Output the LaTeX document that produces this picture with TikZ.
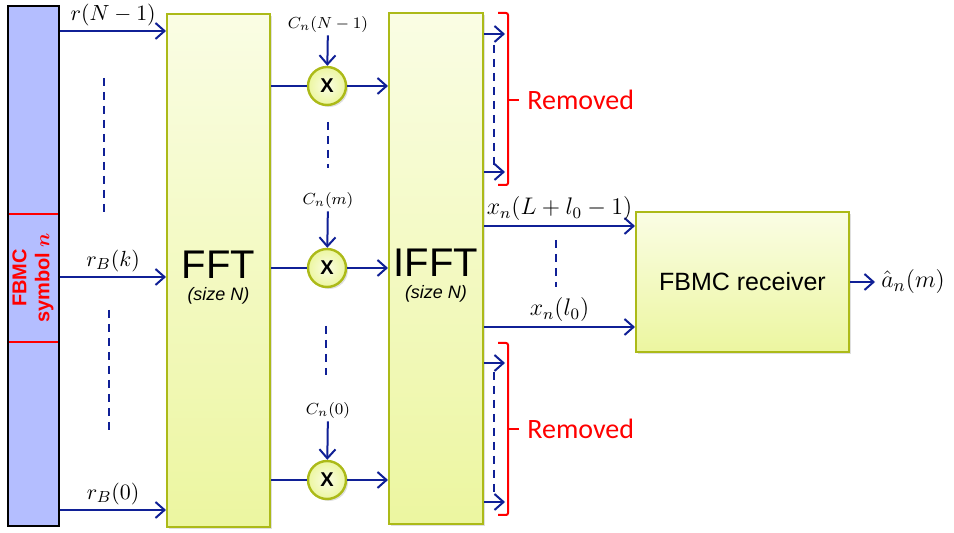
\documentclass[tikz,border=0pt]{standalone}
\usepackage{amsmath}
\usepackage{fontspec}
\setsansfont{Liberation Sans}
\newfontfamily\removedfont{Carlito}
\usetikzlibrary{arrows.meta, positioning, calc, shadows}
\definecolor{fbblue}{RGB}{16,32,150}
\definecolor{fbbar}{RGB}{180,190,255}
\definecolor{fbolive}{RGB}{172,186,24}
\definecolor{fbtop}{RGB}{250,253,228}
\definecolor{fbbot}{RGB}{236,246,160}
\definecolor{fbred}{RGB}{255,0,0}

\begin{document}
\begin{tikzpicture}[x=0.5pt, y=-0.5pt,
        blk/.style={draw=fbolive, line width=1pt, top color=fbtop, bottom color=fbbot,
                    drop shadow={opacity=0.25, shadow xshift=1.2pt, shadow yshift=-1.2pt},
                    align=center, inner sep=0pt, font=\sffamily},
        mult/.style={circle, draw=fbolive, line width=1.2pt, inner color=fbtop, outer color=fbbot,
                     minimum size=19pt, inner sep=0pt, font=\sffamily\bfseries\fontsize{10}{10}\selectfont,
                     drop shadow={opacity=0.25, shadow xshift=1pt, shadow yshift=-1pt}},
        arrow/.style={-{Straight Barb[length=4.5pt, width=8pt]}, line width=1pt, fbblue},
        wire/.style={line width=1pt, fbblue},
        dots/.style={fbblue, line width=1pt, dash pattern=on 4pt off 3pt},
        brk/.style={fbred, line width=1pt, rounded corners=1pt},
        lbl/.style={text=black, font=\fontsize{11}{13}\selectfont, inner sep=1pt},
        clbl/.style={text=black, font=\fontsize{8}{10}\selectfont, inner sep=1pt},
        xlbl/.style={text=black, font=\fontsize{11.5}{14}\selectfont, inner sep=1pt},
        removed/.style={anchor=west, text=fbred, font=\removedfont\fontsize{14}{16}\selectfont, inner sep=0pt},
    ]
    \useasboundingbox (0,0) rectangle (954,533);

    \node[draw=black, line width=1.3pt, fill=fbbar, minimum width=25.5pt, minimum height=260pt,
          inner sep=0pt] (bar) at (33.5,266) {};
    \draw[fbred, line width=1pt] ($(bar.west |- 0,214)+(1pt,0)$) -- ($(bar.east |- 0,214)+(-1pt,0)$);
    \draw[fbred, line width=1pt] ($(bar.west |- 0,342)+(1pt,0)$) -- ($(bar.east |- 0,342)+(-1pt,0)$);
    \node[rotate=90, align=center, text=fbred, font=\sffamily\bfseries\fontsize{10}{11.5}\selectfont]
          (sym) at (33,278) {FBMC\\symbol $\boldsymbol{n}$};

    \node[blk, minimum width=51.5pt, minimum height=256.5pt] (fft) at (218.5,270.5)
          {\fontsize{20}{22}\selectfont\rule{0pt}{21pt}FFT\\[-1pt]{\fontsize{9}{10}\selectfont\itshape (size N)}};
    \node[blk, minimum width=47pt, minimum height=255.5pt] (ifft) at (436,268.5)
          {\fontsize{20}{22}\selectfont\rule{0pt}{21pt}IFFT\\[-1pt]{\fontsize{9}{10}\selectfont\itshape (size N)}};
    \node[blk, minimum width=106.5pt, minimum height=70pt] (rx) at (742.5,282)
          {\fontsize{12.5}{14}\selectfont FBMC receiver};

    \coordinate (i1) at (bar.east |- 0,31);
    \coordinate (i2) at (bar.east |- 0,277);
    \coordinate (i3) at (bar.east |- 0,510);
    \draw[arrow] (i1) -- node[lbl, above=1pt] (r1) {$r(N-1)$} (i1 -| fft.west);
    \draw[arrow] (i2) -- node[lbl, above=1pt] (r2) {$r_B(k)$} (i2 -| fft.west);
    \draw[arrow] (i3) -- node[lbl, above=1pt] (r3) {$r_B(0)$} (i3 -| fft.west);
    \draw[dots] (104,78) -- (104,215);
    \draw[dots] (109,310) -- (109,435);

    \node[mult] (m1) at (327,86)  {X};
    \node[mult] (m2) at (327,268) {X};
    \node[mult] (m3) at (327,480) {X};
    \node[clbl] (c1) at (328,25)  {$C_n(N-1)$};
    \node[clbl] (c2) at (328,201) {$C_n(m)$};
    \node[clbl] (c3) at (328,411) {$C_n(0)$};
    \foreach \i in {1,2,3} {
        \draw[wire] (fft.east |- m\i) -- (m\i);
        \draw[arrow] (m\i) -- (m\i -| ifft.west);
        \draw[arrow] (c\i) -- (m\i);
    }
    \draw[dots] (328,122) -- (328,168);
    \draw[dots] (326,326) -- (326,375);

    \foreach \i/\y in {1/34, 2/172, 3/363, 4/502} {
        \coordinate (o\i) at (ifft.east |- 0,\y);
        \coordinate (e\i) at (505,\y);
        \draw[arrow] (o\i) -- (e\i);
    }
    \draw[dots] (494,45) -- (494,166);
    \draw[dots] (494,372) -- (494,494);
    \draw[brk] (498,13) -- (508,13) -- (508,185) -- (498,185);
    \draw[brk] (508,100) -- (519,100);
    \draw[brk] (498,343) -- (508,343) -- (508,515) -- (498,515);
    \draw[brk] (508,429) -- (519,429);
    \node[removed] (rm1) at (527,100) {Removed};
    \node[removed] (rm2) at (527,429) {Removed};

    \coordinate (x1) at (ifft.east |- 0,226);
    \coordinate (x2) at (ifft.east |- 0,327);
    \draw[arrow] (x1) -- node[xlbl, above=1pt] (lx1) {$x_n(L+l_0-1)$} (x1 -| rx.west);
    \draw[arrow] (x2) -- node[xlbl, above=1pt] (lx2) {$x_n(l_0)$} (x2 -| rx.west);
    \draw[dots] (556,240) -- (556,287);

    \coordinate (out) at (875,282);
    \draw[arrow] (rx) -- (out);
    \node[lbl, font=\fontsize{12.5}{14}\selectfont, right=2pt of out] (ahat) {$\hat{a}_n(m)$};
\end{tikzpicture}
\end{document}
